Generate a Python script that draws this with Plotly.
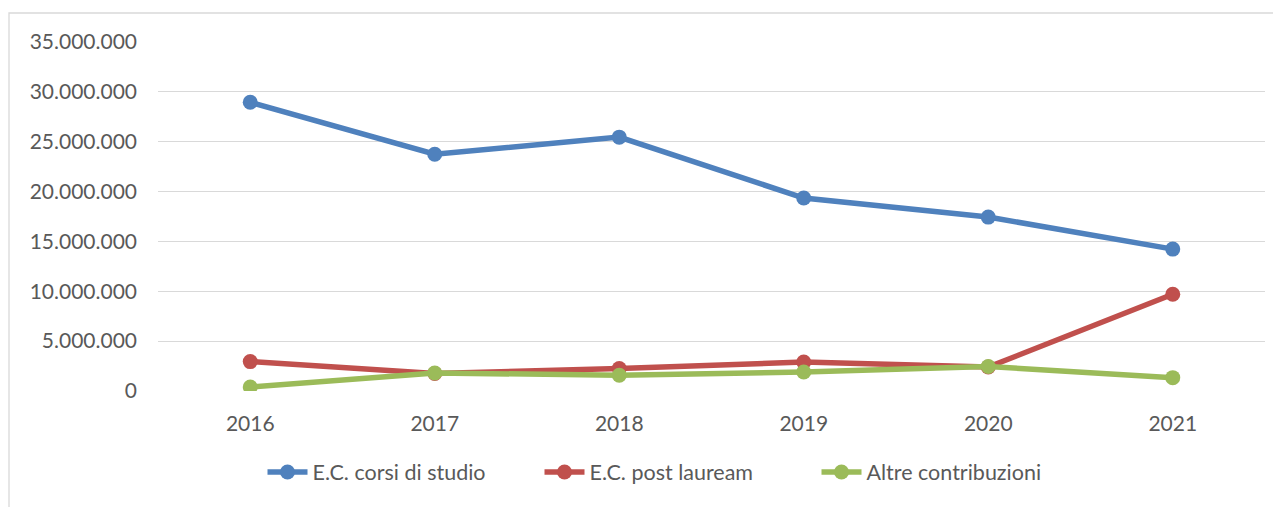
import plotly.graph_objects as go

years = ["2016", "2017", "2018", "2019", "2020", "2021"]
corsi_studio = [28960000, 23750000, 25460000, 19350000, 17440000, 14230000]
post_lauream = [2950000, 1750000, 2250000, 2900000, 2400000, 9700000]
altre_contributi = [400000, 1810000, 1580000, 1900000, 2450000, 1340000]
y_ticks = [0, 5000000, 10000000, 15000000, 20000000, 25000000, 30000000, 35000000]

series = [
    ("E.C. corsi di studio", corsi_studio, "#4F81BD"),
    ("E.C. post lauream", post_lauream, "#C0504D"),
    ("Altre contribuzioni", altre_contributi, "#9BBB59"),
]

FONT = "Lato"
TXT = "#595959"

fig = go.Figure()
for name, vals, col in series:
    fig.add_trace(go.Scatter(
        x=years, y=vals, name=name, mode="lines+markers",
        line=dict(color=col, width=5.5),
        marker=dict(color=col, size=15),
    ))

# page body has an 8px margin; work in reference pixel coordinates
OFF = 8
W, H = 1281 - OFF, 507 - OFF
L = 158 - OFF
T = 42 - OFF
R = W - (1265 - OFF)
B = H - (391 - OFF)
pw, ph = W - L - R, H - T - B

def px_x(x):
    return (x - OFF - L) / pw

def px_y(y):
    return (H - B - (y - OFF)) / ph

fig.update_layout(
    width=W, height=H,
    margin=dict(l=L, r=R, t=T, b=B, pad=0),
    paper_bgcolor="white", plot_bgcolor="white",
    separators=",.",
    font=dict(family=FONT, size=21, color=TXT),
    showlegend=True,
    legend=dict(
        orientation="h", x=px_x(678), xanchor="center",
        y=px_y(472), yanchor="middle",
        font=dict(family=FONT, size=21.5, color=TXT),
        entrywidth=222, itemwidth=40,
        bgcolor="rgba(0,0,0,0)",
    ),
    xaxis=dict(
        type="category", range=[-0.5, 5.5],
        showgrid=False, showline=False, zeroline=False,
        ticks="", ticklabelstandoff=18,
        tickfont=dict(family=FONT, size=21, color=TXT),
        fixedrange=True,
    ),
    yaxis=dict(
        range=[0, 35000000], tickvals=y_ticks, tickformat=",d",
        showgrid=True, gridcolor="#D9D9D9", gridwidth=1.3,
        zeroline=False, showline=False, ticks="",
        ticklabelstandoff=20,
        tickfont=dict(family=FONT, size=21, color=TXT),
        fixedrange=True,
    ),
    shapes=[dict(
        type="rect", xref="paper", yref="paper",
        x0=px_x(9), x1=px_x(1300), y0=px_y(530), y1=px_y(13),
        line=dict(color="#D9D9D9", width=1.3), fillcolor="rgba(0,0,0,0)",
        layer="below",
    )],
)

fig.write_html("out.html")
